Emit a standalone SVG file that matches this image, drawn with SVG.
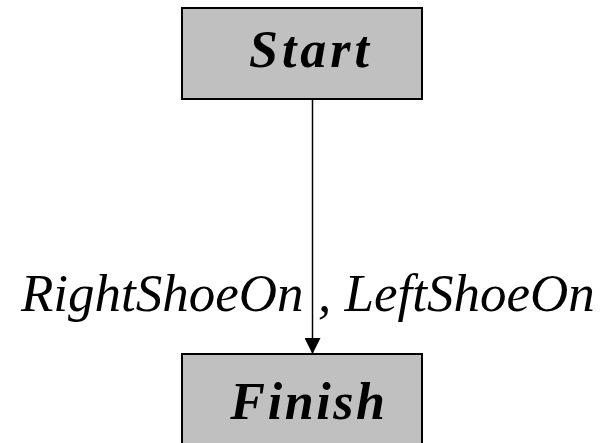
<svg xmlns="http://www.w3.org/2000/svg" width="609" height="443" viewBox="0 0 609 443">
  <style>
    .box { fill: #c0c0c0; stroke: #000; stroke-width: 2; }
    .node-label { font-family: "Liberation Serif", "DejaVu Serif", serif; font-weight: bold; font-style: italic; font-size: 52px; fill: #000; }
    .edge-label { font-family: "Liberation Serif", "DejaVu Serif", serif; font-style: italic; font-size: 53px; fill: #000; }
    .edge { stroke: #000; stroke-width: 1.5; fill: none; }
  </style>
  <defs>
    <marker id="arrow" markerUnits="userSpaceOnUse" markerWidth="16" markerHeight="16" refX="16" refY="8" orient="auto">
      <path d="M0,0 L16,8 L0,16 Z" fill="#000"/>
    </marker>
  </defs>
  <rect width="609" height="443" fill="#fff"/>

  <!-- edge Start -> Finish with its label -->
  <g id="connectors">
    <line class="edge" x1="312.5" y1="99" x2="312.5" y2="354" marker-end="url(#arrow)"/>
    <text class="edge-label" x="21" y="311">RightShoeOn</text>
    <text class="edge-label" x="318" y="311">, LeftShoeOn</text>
  </g>

  <g id="start">
    <rect class="box" x="182" y="8" width="240" height="91"/>
    <text class="node-label" x="311" y="66.5" text-anchor="middle" letter-spacing="4">Start</text>
  </g>

  <g id="finish">
    <rect class="box" x="182" y="354" width="240" height="100"/>
    <text class="node-label" x="309" y="419" text-anchor="middle" letter-spacing="2.6" font-size="53">Finish</text>
  </g>
</svg>
